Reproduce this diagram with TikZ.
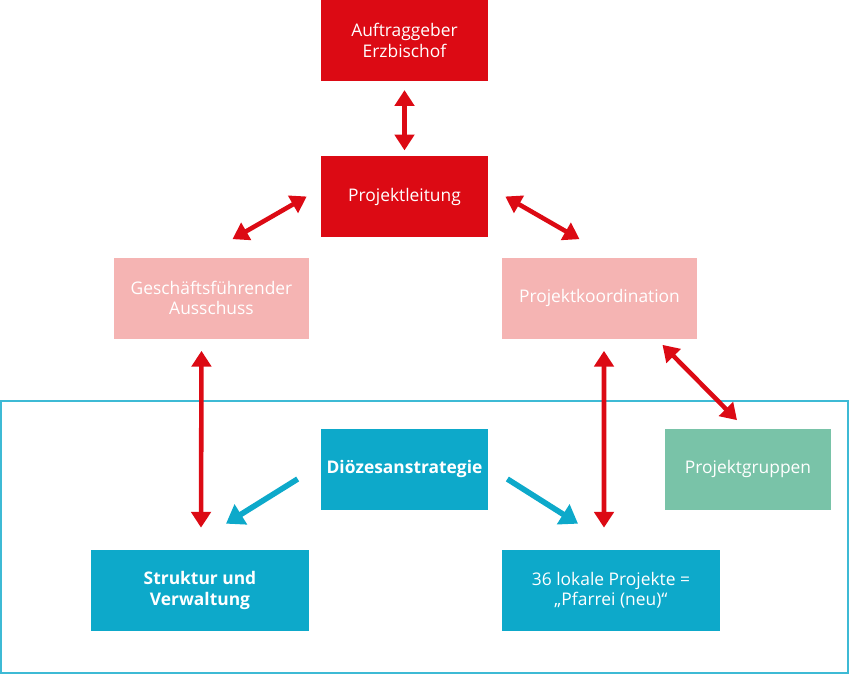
\documentclass[tikz,border=0pt]{standalone}
\usepackage{fontspec}
\setmainfont{Open Sans}
\usepackage{xcolor}
\usetikzlibrary{arrows.meta,positioning,calc}

\definecolor{ebred}{HTML}{DC0A14}
\definecolor{ebpink}{HTML}{F5B4B3}
\definecolor{ebcyan}{HTML}{0DA9CA}
\definecolor{ebgreen}{HTML}{79C3A8}

\begin{document}
\begin{tikzpicture}[
    x=0.02cm,y=-0.02cm,
    box/.style={rectangle,inner sep=0pt,text=white,align=center,
        font=\fontsize{9.9pt}{11.6pt}\selectfont,minimum height=1.62cm},
    small/.style={box,minimum width=3.34cm},
    wide/.style={box,minimum width=3.9cm},
    broad/.style={box,minimum width=4.36cm},
    redarrow/.style={{Triangle[length=9pt,width=11pt]}-{Triangle[length=9pt,width=11pt]},
        line width=2.6pt,draw=ebred},
    bluearrow/.style={-{Triangle[length=10pt,width=13pt]},line width=3.2pt,draw=ebcyan}
]
    \useasboundingbox (0,0) rectangle (849,674);

    % Frame round the diocesan part
    \draw[ebcyan!80,line width=0.9pt] (1,401) rectangle (848,673);

    % Top: client and project lead
    \node[small,fill=ebred] (auf) at (404.5,40.5) {Auftraggeber\\Erzbischof};
    \node[small,fill=ebred] (pl) at (404.5,196.5) {Projektleitung};
    \draw[redarrow,shorten <=5pt,shorten >=3pt] (auf.south) -- (pl.north);

    % Second row
    \node[wide,fill=ebpink] (gf) at (211.5,298) {Geschäftsführender\\Ausschuss};
    \node[wide,fill=ebpink] (pk) at (599.5,298) {Projektkoordination};
    \draw[redarrow] ($(pl.west)+(-14,0)$) -- ($(gf.north)+(21,-18)$);
    \draw[redarrow] ($(pl.east)+(17,0)$) -- ($(pk.north)+(-20,-18)$);

    % Strategy and groups
    \node[small,fill=ebcyan,font=\fontsize{9.9pt}{11.6pt}\selectfont\bfseries] (ds) at (404.5,469) {Diözesanstrategie};
    \node[small,fill=ebgreen] (pg) at (748,469) {Projektgruppen};
    \draw[redarrow] ($(pk.south)+(63,6)$) -- ($(pg.north)+(-11,-8)$);

    % Bottom row
    \node[broad,fill=ebcyan,font=\fontsize{9.9pt}{11.6pt}\selectfont\bfseries] (st) at (200,590.5) {Struktur und\\Verwaltung};
    \node[broad,fill=ebcyan] (lp) at (611,590.5) {36 lokale Projekte =\\„Pfarrei (neu)“};
    \draw[redarrow] ($(gf.south)+(-10,12)$) -- ($(st.north)+(1,-22)$);
    \draw[redarrow] ($(pk.south)+(4.5,12)$) -- ($(lp.north)+(-7,-22)$);
    \draw[bluearrow] ($(ds.west)+(-23,10)$) -- ($(st.north)+(26,-26)$);
    \draw[bluearrow] ($(ds.east)+(19,10)$) -- ($(lp.north)+(-33,-26)$);
\end{tikzpicture}
\end{document}
